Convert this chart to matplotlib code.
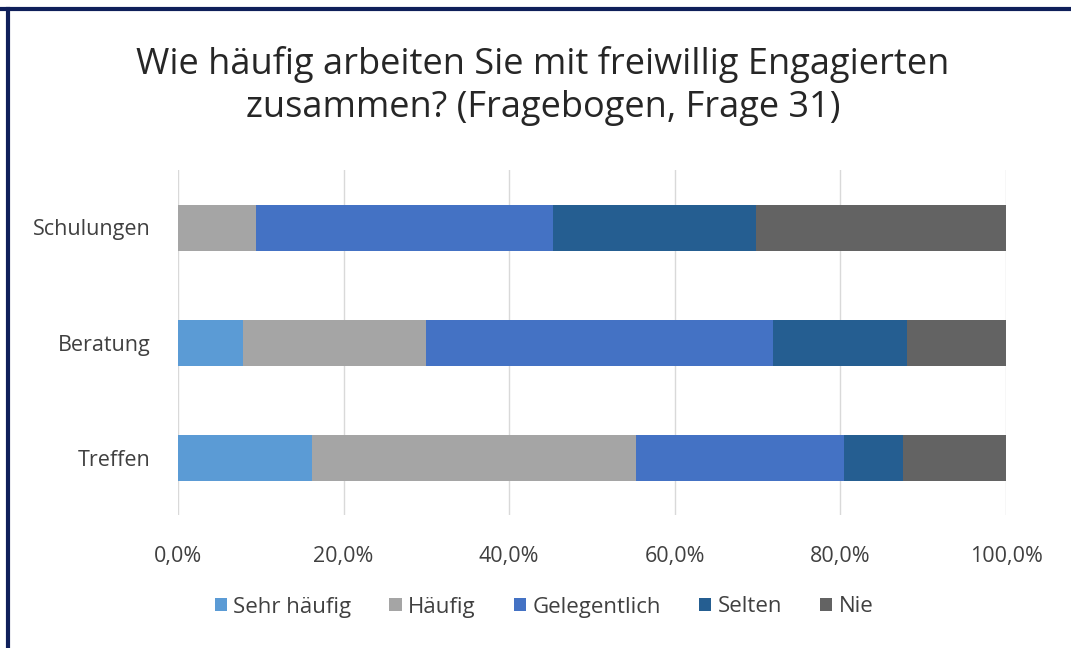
import numpy as np
import matplotlib
matplotlib.use("Agg")
import matplotlib.pyplot as plt
from matplotlib.ticker import FuncFormatter

plt.rcParams["font.family"] = ["Open Sans", "DejaVu Sans"]

# Data (shares in %), bottom-to-top order of the y axis
categories = ["Treffen", "Beratung", "Schulungen"]
series_names = ["Sehr häufig", "Häufig", "Gelegentlich", "Selten", "Nie"]
sehr_haeufig = [16.2, 7.9, 0.0]
haeufig = [39.1, 22.0, 9.4]
gelegentlich = [25.1, 42.0, 35.9]
selten = [7.2, 16.1, 24.5]
nie = [12.4, 12.0, 30.2]
x_ticks = [0, 20, 40, 60, 80, 100]

colors = ["#5B9BD5", "#A5A5A5", "#4472C4", "#255E91", "#636363"]
values = [sehr_haeufig, haeufig, gelegentlich, selten, nie]

fig = plt.figure(figsize=(10.71, 6.48), dpi=100)
ax = fig.add_axes([178 / 1071, 1 - 515 / 648, 828 / 1071, 345 / 648])

y = np.arange(len(categories))
left = np.zeros(len(categories))
for name, vals, col in zip(series_names, values, colors):
    ax.barh(y, vals, left=left, height=0.4, color=col, label=name, zorder=3)
    left += np.array(vals)

ax.set_xlim(0, 100)
ax.set_ylim(-0.5, 2.5)
ax.set_xticks(x_ticks)
ax.xaxis.set_major_formatter(FuncFormatter(lambda v, p: f"{v:.1f}%".replace(".", ",")))
ax.set_yticks(y)
ax.set_yticklabels(categories)
ax.grid(axis="x", color="#D9D9D9", linewidth=1, zorder=0)
for s in ax.spines.values():
    s.set_visible(False)
ax.tick_params(axis="both", length=0, colors="#404040", labelsize=15.5)
ax.tick_params(axis="x", pad=22)
ax.tick_params(axis="y", pad=20)

fig.text(0.507, 1 - 86 / 648, "Wie häufig arbeiten Sie mit freiwillig Engagierten\nzusammen? (Fragebogen, Frage 31)",
         ha="center", va="center", fontsize=26, color="#262626", linespacing=1.25)

leg = fig.legend(loc="center", bbox_to_anchor=(0.508, 1 - 607 / 648), ncol=5, frameon=False,
                 fontsize=16, handlelength=0.55, handleheight=0.55, handletextpad=0.3,
                 columnspacing=1.7, labelcolor="#404040")

# dark frame at top and left edge
fig.add_artist(plt.Line2D([0, 1], [1 - 8.5 / 648] * 2, color="#0F1F5A", linewidth=3))
fig.add_artist(plt.Line2D([8 / 1071] * 2, [0, 1 - 8.5 / 648], color="#0F1F5A", linewidth=3))

fig.savefig("out.png", dpi=100)
